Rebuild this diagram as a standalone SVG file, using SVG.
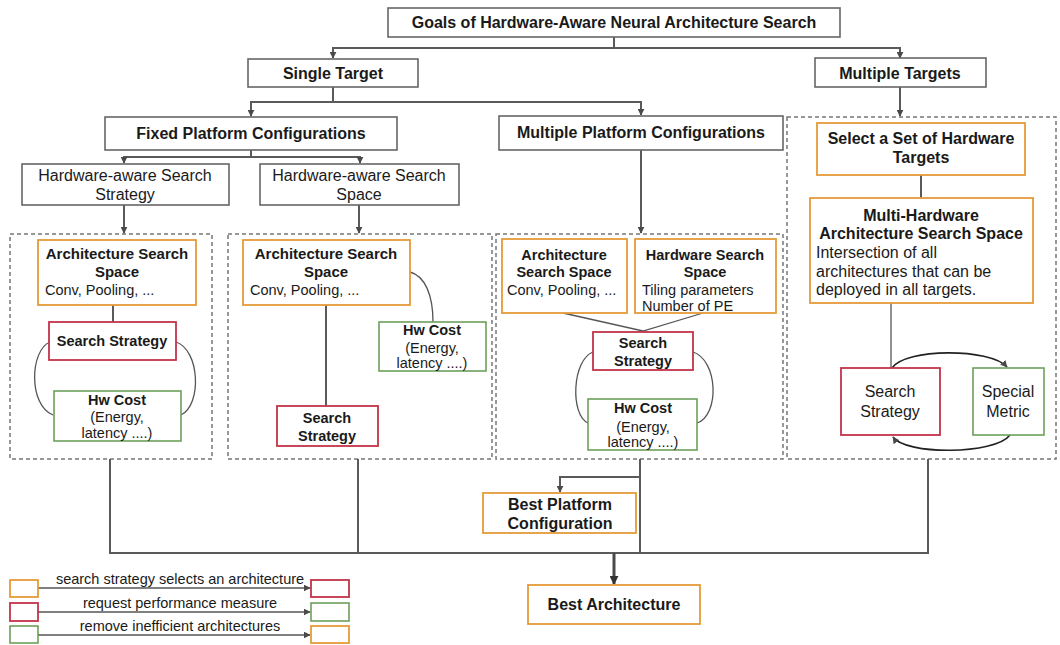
<svg xmlns="http://www.w3.org/2000/svg" width="1060" height="645" viewBox="0 0 1060 645">
<defs>
<style>
text{font-family:'Liberation Sans',Arial,sans-serif;fill:#1a1a1a}
.b16{font-size:16px;font-weight:bold}
.r16{font-size:16px}
.b15{font-size:15px;font-weight:bold}
.b14{font-size:14.5px;font-weight:bold}
.r14{font-size:14.5px}
.c{text-anchor:middle}
.top{fill:#fff;stroke:#666;stroke-width:1.6}
.or{fill:#fff;stroke:#e69b3a;stroke-width:1.8}
.rd{fill:#fff;stroke:#c2334a;stroke-width:1.8}
.gr{fill:#fff;stroke:#6d9f5b;stroke-width:1.6}
.dash{fill:none;stroke:#777;stroke-width:1.5;stroke-dasharray:4 3}
.ln{fill:none;stroke:#5a5a5a;stroke-width:2}
.thin{fill:none;stroke:#555;stroke-width:1.3}
</style>
<marker id="ah" viewBox="0 0 10 10" refX="9" refY="5" markerWidth="7" markerHeight="7" markerUnits="userSpaceOnUse" orient="auto">
<path d="M0,0 L10,5 L0,10 z" fill="#4a4a4a"/>
</marker>
<marker id="ah2" viewBox="0 0 10 10" refX="9" refY="5" markerWidth="9" markerHeight="9" markerUnits="userSpaceOnUse" orient="auto">
<path d="M0,0 L10,5 L0,10 z" fill="#333"/>
</marker>
</defs>
<rect width="1060" height="645" fill="#fff"/>

<g id="dashed-regions">
<rect class="dash" x="10" y="234" width="202" height="225"/>
<rect class="dash" x="228" y="234" width="264" height="225"/>
<rect class="dash" x="496" y="234" width="287" height="225"/>
<rect class="dash" x="787" y="117" width="269" height="342"/>
</g>

<g id="connectors">
<path class="ln" d="M614,37 V48 H333 V58" marker-end="url(#ah)"/>
<path class="ln" d="M614,48 H900 V58" marker-end="url(#ah)"/>
<path class="ln" d="M333,87 V102 H251 V116" marker-end="url(#ah)"/>
<path class="ln" d="M333,102 H641 V115" marker-end="url(#ah)"/>
<path class="ln" d="M251,150 V157 H124 V163" marker-end="url(#ah)"/>
<path class="ln" d="M251,157 H360 V163" marker-end="url(#ah)"/>
<path class="ln" d="M124,205 V233" marker-end="url(#ah)"/>
<path class="ln" d="M359,205 V233" marker-end="url(#ah)"/>
<path class="ln" d="M641,150 V233" marker-end="url(#ah)"/>
<path class="ln" d="M900,87 V116" marker-end="url(#ah)"/>
<path class="ln" d="M921,175 V198"/>
<path class="thin" d="M891,303 V368"/>
<path class="ln" d="M113,305 V322"/>
<path class="thin" d="M50,342 C30,350 28,405 53,415"/>
<path class="thin" d="M176,342 C200,350 202,405 181,415"/>
<path class="ln" d="M326,305 V406"/>
<path class="thin" d="M410,272 C425,276 433,295 433,322"/>
<path class="thin" d="M563,313 L643,331 L703,313"/>
<path class="thin" d="M593,352 C572,360 570,415 588,423"/>
<path class="thin" d="M693,352 C718,360 720,415 697,423"/>
<path fill="none" stroke="#222" stroke-width="1.6" d="M892,368 C905,348 990,348 1007,367" marker-end="url(#ah)"/>
<path fill="none" stroke="#222" stroke-width="1.6" d="M1010,435 C995,455 905,455 893,437" marker-end="url(#ah)"/>
<path class="ln" d="M110,459 V553 H928 V459"/>
<path class="ln" d="M358,459 V553"/>
<path class="ln" d="M640,459 V553"/>
<path class="ln" d="M640,477 H560 V492" marker-end="url(#ah)"/>
<path fill="none" stroke="#4a4a4a" stroke-width="3" d="M614,553 V584" marker-end="url(#ah2)"/>
<path class="thin" d="M38,588 H310" marker-end="url(#ah)"/>
<path class="thin" d="M38,612 H310" marker-end="url(#ah)"/>
<path class="thin" d="M38,635 H310" marker-end="url(#ah)"/>
</g>

<g id="goals">
<rect class="top" x="388" y="8" width="452" height="29"/>
<text class="b16 c" x="614" y="28">Goals of Hardware-Aware Neural Architecture Search</text>
</g>
<g id="single-target">
<rect class="top" x="248" y="59" width="170" height="28"/>
<text class="b16 c" x="333" y="79">Single Target</text>
</g>
<g id="multiple-targets">
<rect class="top" x="815" y="58" width="171" height="29"/>
<text class="b16 c" x="900" y="79">Multiple Targets</text>
</g>
<g id="fixed-platform">
<rect class="top" x="105" y="117" width="292" height="33"/>
<text class="b16 c" x="251" y="139">Fixed Platform Configurations</text>
</g>
<g id="multiple-platform">
<rect class="top" x="499" y="116" width="284" height="34"/>
<text class="b16 c" x="641" y="138">Multiple Platform Configurations</text>
</g>
<g id="hw-search-strategy">
<rect class="top" x="22" y="164" width="207" height="41"/>
<text class="r16 c" x="125" y="181">Hardware-aware Search</text>
<text class="r16 c" x="125" y="200">Strategy</text>
</g>
<g id="hw-search-space">
<rect class="top" x="260" y="164" width="199" height="41"/>
<text class="r16 c" x="359" y="181">Hardware-aware Search</text>
<text class="r16 c" x="359" y="200">Space</text>
</g>

<g id="ass1">
<rect class="or" x="38" y="240" width="158" height="65"/>
<text class="b15 c" x="117" y="259">Architecture Search</text>
<text class="b15 c" x="117" y="277">Space</text>
<text class="r14" x="45" y="295">Conv, Pooling, ...</text>
</g>
<g id="ss1">
<rect class="rd" x="49" y="322" width="127" height="38"/>
<text class="b14 c" x="112" y="346">Search Strategy</text>
</g>
<g id="hw1">
<rect class="gr" x="54" y="391" width="127" height="50"/>
<text class="b14 c" x="117" y="405">Hw Cost</text>
<text class="r14 c" x="117" y="422">(Energy,</text>
<text class="r14 c" x="117" y="438">latency ....)</text>
</g>

<g id="ass2">
<rect class="or" x="243" y="240" width="167" height="65"/>
<text class="b15 c" x="326" y="259">Architecture Search</text>
<text class="b15 c" x="326" y="277">Space</text>
<text class="r14" x="250" y="295">Conv, Pooling, ...</text>
</g>
<g id="hw2">
<rect class="gr" x="379" y="322" width="107" height="49"/>
<text class="b14 c" x="432" y="335">Hw Cost</text>
<text class="r14 c" x="432" y="353">(Energy,</text>
<text class="r14 c" x="432" y="368">latency ....)</text>
</g>
<g id="ss2">
<rect class="rd" x="277" y="406" width="101" height="40"/>
<text class="b14 c" x="327" y="423">Search</text>
<text class="b14 c" x="327" y="441">Strategy</text>
</g>

<g id="ass3">
<rect class="or" x="502" y="239" width="125" height="74"/>
<text class="b14 c" x="564" y="260">Architecture</text>
<text class="b14 c" x="564" y="277">Search Space</text>
<text class="r14" x="507" y="295">Conv, Pooling, ...</text>
</g>
<g id="hss3">
<rect class="or" x="635" y="239" width="141" height="74"/>
<text class="b14 c" x="705" y="260">Hardware Search</text>
<text class="b14 c" x="705" y="277">Space</text>
<text class="r14" x="642" y="295">Tiling parameters</text>
<text class="r14" x="642" y="311">Number of PE</text>
</g>
<g id="ss3">
<rect class="rd" x="593" y="332" width="100" height="38"/>
<text class="b14 c" x="643" y="348">Search</text>
<text class="b14 c" x="643" y="366">Strategy</text>
</g>
<g id="hw3">
<rect class="gr" x="588" y="399" width="109" height="51"/>
<text class="b14 c" x="643" y="413">Hw Cost</text>
<text class="r14 c" x="643" y="432">(Energy,</text>
<text class="r14 c" x="643" y="447">latency ....)</text>
</g>

<g id="select-targets">
<rect class="or" x="817" y="123" width="208" height="52"/>
<text class="b16 c" x="921" y="144">Select a Set of Hardware</text>
<text class="b16 c" x="921" y="163">Targets</text>
</g>
<g id="multi-hw-ass">
<rect class="or" x="810" y="198" width="223" height="105"/>
<text class="b16 c" x="921" y="221">Multi-Hardware</text>
<text class="b16 c" x="921" y="239">Architecture Search Space</text>
<text class="r16" x="816" y="258">Intersection of all</text>
<text class="r16" x="816" y="277">architectures that can be</text>
<text class="r16" x="816" y="295">deployed in all targets.</text>
</g>
<g id="ss4">
<rect class="rd" x="841" y="368" width="99" height="67"/>
<text class="r16 c" x="890" y="397">Search</text>
<text class="r16 c" x="890" y="417">Strategy</text>
</g>
<g id="special-metric">
<rect class="gr" x="973" y="368" width="71" height="67"/>
<text class="r16 c" x="1008" y="397">Special</text>
<text class="r16 c" x="1008" y="417">Metric</text>
</g>

<g id="best-platform">
<rect class="or" x="483" y="493" width="153" height="40"/>
<text class="b16 c" x="560" y="510">Best Platform</text>
<text class="b16 c" x="560" y="529">Configuration</text>
</g>
<g id="best-architecture">
<rect class="or" x="528" y="585" width="172" height="39"/>
<text class="b16 c" x="614" y="610">Best Architecture</text>
</g>

<g id="legend">
<rect class="or" x="10" y="580" width="28" height="17"/>
<rect class="rd" x="311" y="580" width="38" height="17"/>
<text class="r14 c" x="180" y="584">search strategy selects an architecture</text>
<rect class="rd" x="10" y="603" width="28" height="18"/>
<rect class="gr" x="311" y="603" width="38" height="18"/>
<text class="r14 c" x="180" y="608">request performance measure</text>
<rect class="gr" x="10" y="626" width="28" height="17"/>
<rect class="or" x="311" y="626" width="38" height="17"/>
<text class="r14 c" x="180" y="631">remove inefficient architectures</text>
</g>
</svg>
